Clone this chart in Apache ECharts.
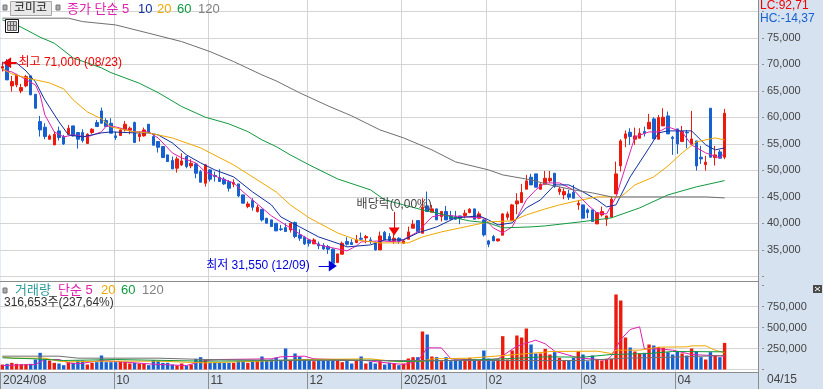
<!DOCTYPE html>
<html>
<head>
<meta charset="utf-8">
<style>
  html, body { margin: 0; padding: 0; background: #d6e2f0; }
  #main { width: 823px; height: 389px; }
</style>
</head>
<body>
<div id="main"></div>
<script src="https://cdn.jsdelivr.net/npm/echarts@6/dist/echarts.min.js"></script>
<script>
// [open, close, low, high]
const candles = [
  [69280,69590,68650,70500],[70535,67080,67080,71000],[65945,66760,64875,67830],[66130,68020,65690,68210],
  [65000,65630,64560,66320],[65945,67700,65690,68020],[67830,64250,64250,67830],[64370,61730,61730,64370],
  [59215,57640,56385,60285],[58150,56385,55880,58900],[55880,56510,55760,56825],[54810,56825,54810,57330],
  [57455,56200,55630,58270],[56385,55000,54810,56700],[56825,57960,56700,58585],[58400,56510,56385,58400],
  [57140,55880,54120,57140],[57140,55630,55250,57770],[55065,56825,55065,57015],[57140,57770,56900,57960],
  [59030,58270,58270,59530],[61225,58900,58900,61860],[59400,58270,58270,59845],[58900,57015,57015,59845],
  [56510,56200,55760,57330],[56575,57640,56575,57960],[57640,58710,57330,59340],[57640,57960,56825,58270],
  [59030,55250,55250,59215],[56385,56825,55440,57330],[56510,57640,56385,58080],[58710,57140,57140,58710],
  [56385,54750,54750,56700],[55440,54370,53365,55440],[54500,52420,52420,54500],[52925,51670,51670,52925],
  [51860,50285,50285,52610],[50410,52170,49590,52610],[51040,51790,50850,53240],[52610,50720,50410,52735],
  [50850,51350,50410,52110],[51225,49465,48520,51350],[49780,47770,47770,50095],[47580,51040,46950,51225],
  [50095,48335,47895,50220],[49025,48840,47895,49780],[48650,47895,47895,50220],[48335,47455,47265,48710],
  [47895,46635,46010,48210],[47390,47705,46825,48335],[47455,45190,44940,47455],[45380,43805,43805,45380],
  [43175,43680,42865,44120],[44310,43050,42420,44750],[42235,43050,42045,43490],[42675,40660,40350,42675],
  [40975,40030,40030,40975],[40660,39400,39400,40660],[40030,38585,38585,40030],[38965,38840,38585,39720],
  [39215,38460,38460,40030],[38775,40030,38270,40030],[40160,37520,37200,40350],[37830,37200,36700,38900],
  [37390,36135,35945,37640],[36890,36260,35630,37015],[36135,36890,36135,37200],[36135,35755,35130,36575],
  [35820,35190,35000,36260],[35630,35130,34245,35945],[35130,32485,31550,35315],[32610,34245,32610,34245],
  [34185,36260,34185,36575],[36575,36070,35820,37390],[36385,36010,36010,37015],[36385,36890,36260,37830],
  [37200,37015,36760,38270],[37265,37520,36260,37830],[36890,36760,36135,37390],[36260,35000,34875,36575],
  [35000,37640,35000,38460],[38335,36890,36890,38585],[37520,36760,36760,38145],[36760,37200,36135,38020],
  [37200,36700,36135,37390],[36260,36700,36135,37015],[37015,38400,37015,39400],[39090,39845,39090,40660],
  [40535,38460,38460,40535],[38145,43050,38145,44750],[43305,42235,42235,46010],[42110,42740,42110,43490],
  [42740,40660,40660,42740],[41290,42235,40350,42360],[42235,40660,40660,43305],[41415,40790,40790,42360],
  [41290,40790,40660,42360],[41415,40975,39845,41415],[41480,41920,40975,42550],[42045,42675,41920,42865],
  [42740,40790,40790,42740],[40975,41795,40790,42235],[40660,37830,37520,40790],[36700,36070,35505,36890],
  [37520,36700,36700,37830],[36700,37075,36575,37075],[37770,41795,37770,41920],[41165,41795,40660,42235],
  [40535,43490,40535,43680],[43680,44245,41730,45695],[43930,45820,43930,47455],[46450,48020,46450,49150],
  [48710,47265,47265,49340],[49340,46825,46825,49340],[46450,47390,46450,47580],[47390,48520,47390,49900],
  [48020,48520,47700,49900],[49470,46950,46700,49470],[45950,46510,45380,46950],[45380,46000,44560,46640],
  [45570,44940,44435,46320],[45880,44750,44750,47265],[43490,43800,42550,44435],[43490,40975,40975,43490],
  [42550,42045,40975,42860],[42550,40350,40350,42550],[39900,42045,39900,42045],[41600,42230,41290,43180],
  [40790,41415,39530,41415],[41165,44560,41165,45065],[45570,49340,45570,51670],[50850,55567,49780,55880],
  [56070,56888,54370,57517],[57200,56385,54810,57957],[55880,56510,54810,58080],[56070,57013,56070,57957],
  [57330,57013,56385,58270],[57830,59089,57830,60660],[59718,55944,55944,60032],[55880,59970,55880,60472],
  [58397,60032,58397,61730],[60284,56888,56888,61100],[56258,56007,52925,56510],[57830,55000,53115,57830],
  [55440,57330,55440,58397],[57200,57076,54183,57640],[54938,55944,54938,61227],[55567,50850,49970,55567],
  [52485,52170,51228,54624],[51100,51542,49970,52737],[61730,52485,52485,61730],[52422,52925,50913,54624],
  [53490,52297,52297,53869],[52485,60787,52108,61604]
];
const volumes = [
  59500,67500,79400,67500,63500,63500,67500,119000,198400,127000,107100,79400,71400,51600,87300,79400,
  107100,107100,59500,79400,87300,166700,87300,87300,87300,91300,91300,71400,79400,71400,67500,51600,
  111100,99200,79400,79400,59500,47600,71400,47600,59500,127000,146800,119000,79400,79400,79400,79400,
  79400,79400,99200,99200,79400,107100,99200,154800,107100,119000,142800,107100,250000,107100,190500,150800,
  119000,103200,99200,107100,107100,107100,107100,107100,87300,107100,71400,107100,154800,71400,91300,71400,
  99200,59500,79400,71400,51600,71400,130900,146800,146800,452400,416600,154800,146800,99200,146800,99200,
  119000,107100,119000,138900,119000,107100,226200,130900,99200,119000,396800,119000,226200,404700,380900,488100,
  297600,190500,190500,246000,178600,206300,138900,107100,107100,138900,218200,178600,99200,166700,119000,107100,
  127000,127000,892800,821400,380900,261900,214300,190500,198400,297600,285700,265900,257900,206300,178600,218200,
  190500,166700,250000,218200,146800,119000,206300,166700,146800,316653
];

// moving averages, [bar index, value]
const ma5 = [[0,68960],[2,68585],[4,67640],[7,66130],[8,64245],[9,60470],[11,57265],[13,56320],[15,56700],[18,56320],[21,57265],[22,58395],[24,58210],[28,57265],[31,57265],[33,56130],[36,53300],[38,52360],[41,51415],[43,49715],[46,48585],[49,47640],[51,45945],[55,42925],[57,41415],[60,39715],[64,37450],[67,35945],[70,35380],[73,34810],[75,35755],[76,36510],[80,36700],[84,36510],[86,37450],[88,38395],[91,41225],[93,41600],[98,41225],[102,41040],[104,39150],[106,38210],[108,39340],[111,44435],[113,46320],[115,47640],[118,47640],[121,46320],[124,43490],[126,41980],[128,41790],[130,45000],[132,50660],[134,56320],[137,57265],[139,57265],[141,58210],[144,57265],[146,54810],[149,53300],[152,52360],[153,53300]];
const ma10 = [[0,70285],[3,70285],[5,68775],[7,66700],[9,63300],[12,59150],[14,56700],[17,56320],[21,57075],[23,57265],[28,57075],[31,57075],[33,56700],[36,55190],[39,52925],[42,51415],[45,50095],[49,48775],[53,45945],[57,43490],[59,41225],[63,39340],[67,37450],[72,35945],[73,35565],[78,35945],[81,36890],[85,36890],[88,38210],[92,39340],[96,41040],[101,41415],[103,40660],[105,39715],[108,40095],[111,42925],[114,44435],[117,47265],[120,47265],[123,45945],[126,44435],[128,43115],[130,43490],[133,48775],[137,54245],[139,57075],[141,57455],[146,57455],[149,54810],[151,53870],[153,54245]];
const ma20 = [[0,69150],[2,68210],[6,67265],[10,66510],[13,65380],[15,63300],[18,61040],[21,59720],[23,58210],[28,57265],[31,57075],[36,56130],[42,54245],[49,51040],[55,47640],[58,45945],[61,43490],[65,41040],[71,38210],[75,36890],[80,36320],[86,36320],[89,37450],[93,38395],[98,39340],[103,40285],[108,40470],[111,41600],[115,42735],[118,43490],[122,44300],[126,45000],[131,45000],[134,47265],[138,48775],[141,50850],[144,53300],[147,55380],[151,56130],[153,55755]];
const ma60 = [[0,78400],[4,77020],[8,75130],[11,74000],[15,71225],[21,69340],[23,68450],[29,66450],[33,64680],[38,62040],[43,60040],[48,58775],[52,57320],[55,55755],[58,54490],[61,52925],[65,51040],[71,48400],[78,46320],[81,44435],[85,43490],[89,42550],[92,41980],[96,41040],[99,40470],[103,40095],[106,39150],[112,39340],[115,39530],[123,40340],[129,41040],[135,42925],[141,45375],[147,46890],[153,48075]];
const ma120 = [[0,78720],[14,78720],[17,78075],[24,77450],[31,75885],[38,74300],[44,72415],[49,70530],[55,68020],[58,66890],[63,64625],[69,62170],[74,60285],[80,57640],[85,56130],[91,53870],[96,51605],[103,50095],[106,49150],[112,48210],[116,47265],[121,46320],[125,45755],[129,45000],[137,45000],[149,45000],[153,44810]];

const volMa5 = [[0,47600],[7,59500],[9,119000],[12,119000],[14,79400],[16,67500],[21,107100],[28,79400],[33,59500],[39,47600],[43,107100],[46,119000],[57,127000],[59,150800],[64,158700],[66,127000],[77,107100],[80,87300],[85,59500],[88,99200],[90,257900],[93,257900],[95,127000],[101,111100],[105,127000],[109,277800],[113,349200],[115,305500],[117,218200],[122,138900],[128,111100],[129,158700],[131,357100],[133,476200],[135,507900],[136,246000],[139,246000],[142,230100],[146,178600],[153,158700]];
const volMa20 = [[0,150800],[2,134900],[9,134900],[12,99200],[14,91300],[21,99200],[33,99200],[43,79400],[57,103200],[64,119000],[78,127000],[80,115100],[84,91300],[89,99200],[91,127000],[99,134900],[115,206300],[116,214300],[126,218200],[129,190500],[130,230100],[135,230100],[139,265900],[145,269800],[146,281700],[149,281700],[151,230100],[153,198400]];
const volMa60 = [[0,138900],[7,127000],[13,107100],[24,119000],[43,99200],[57,107100],[64,111100],[78,111100],[85,95200],[103,119000],[115,150800],[123,146800],[129,178600],[137,190500],[142,214300],[153,210300]];
const volMa120 = [[0,158700],[12,158700],[16,134900],[33,134900],[43,119000],[57,111100],[77,107100],[123,107100],[132,134900],[142,146800],[153,166700]];

// month start bars and their axis labels
const monthStarts = [0, 24, 44, 65, 85, 103, 123, 143];
const monthLabels = ['2024/08', '10', '11', '12', '2025/01', '02', '03', '04'];
const categories = Array.from({ length: 161 }, (_, i) => {
  const m = monthStarts.indexOf(i);
  return m >= 0 ? monthLabels[m] : String(i);
});

const priceLegend = [
  { text: '종가 단순 5', x: 67, color: '#e020b0' },
  { text: '10', x: 138, color: '#1030a0' },
  { text: '20', x: 157, color: '#f0a800' },
  { text: '60', x: 177, color: '#109a40' },
  { text: '120', x: 198, color: '#808080' }
];
const volumeLegend = [
  { text: '거래량', x: 15, color: '#2a9a9a' },
  { text: '단순 5', x: 58, color: '#e020b0' },
  { text: '20', x: 101, color: '#f0a800' },
  { text: '60', x: 121, color: '#109a40' },
  { text: '120', x: 142, color: '#808080' }
];

const RED = '#ec1a0c';
const BLUE = '#1660d0';
const GRID = '#d4d4d4';
const FRAME = '#8c8c8c';
const BAND = '#d6e2f0';
const FONT = '"Liberation Sans", "Noto Sans CJK KR", sans-serif';
const isMonthStart = (i) => monthStarts.includes(i);
const comma = (v) => v.toLocaleString('en-US');

const label = (text, x, y, color, size) => ({
  type: 'text', x, y, silent: true, z: 10,
  style: { text, fill: color, font: (size || 12) + 'px ' + FONT, textVerticalAlign: 'middle' }
});
const square = (x, y) => ({
  type: 'rect', z: 10, silent: true,
  shape: { x, y, width: 4, height: 5 },
  style: { fill: '#aaa', stroke: '#777', lineWidth: 1 }
});
const vline = (x, y1, y2) => ({
  type: 'line', z: 9, silent: true,
  shape: { x1: x, y1, x2: x, y2 }, style: { stroke: FRAME, lineWidth: 1 }
});
const hline = (y, x2) => ({
  type: 'line', z: 9, silent: true,
  shape: { x1: 0, y1: y, x2, y2: y }, style: { stroke: FRAME, lineWidth: 1 }
});

const tableIcon = [
  { type: 'rect', z: 10, silent: true, shape: { x: 5.5, y: 19.5, width: 13, height: 13 }, style: { fill: '#fff', stroke: '#111', lineWidth: 1 } },
  { type: 'rect', z: 11, silent: true, shape: { x: 7.5, y: 21.5, width: 9, height: 9 }, style: { fill: '#ccc', stroke: '#666', lineWidth: 1 } },
  { type: 'line', z: 12, silent: true, shape: { x1: 10.5, y1: 21, x2: 10.5, y2: 31 }, style: { stroke: '#666' } },
  { type: 'line', z: 12, silent: true, shape: { x1: 13.5, y1: 21, x2: 13.5, y2: 31 }, style: { stroke: '#666' } },
  { type: 'line', z: 12, silent: true, shape: { x1: 7, y1: 25.5, x2: 17, y2: 25.5 }, style: { stroke: '#666' } }
];
const expandIcon = [
  { type: 'rect', z: 10, silent: true, shape: { x: 813, y: 285, width: 9, height: 8 }, style: { fill: '#4a4a4a' } },
  { type: 'line', z: 11, silent: true, shape: { x1: 815, y1: 287, x2: 820, y2: 291 }, style: { stroke: '#fff' } },
  { type: 'line', z: 11, silent: true, shape: { x1: 820, y1: 287, x2: 815, y2: 291 }, style: { stroke: '#fff' } }
];

const maLine = (name, data, color, axis) => ({
  name, type: 'line', data, xAxisIndex: axis, yAxisIndex: axis,
  showSymbol: false, symbol: 'none', silent: true, z: 3,
  lineStyle: { color, width: 1 }
});

const chart = echarts.init(document.getElementById('main'));
chart.setOption({
  animation: false,
  backgroundColor: BAND,
  textStyle: { fontFamily: FONT },
  grid: [
    { left: 0, top: 11.4, width: 760, height: 265 },
    { left: 0, top: 285.5, width: 760, height: 84 },
    { left: 0, top: 0, width: 760, height: 372, show: true, backgroundColor: '#fff', borderWidth: 0 }
  ],
  xAxis: [
    { type: 'category', gridIndex: 0, data: categories, show: false },
    { type: 'category', gridIndex: 1, data: categories, show: false },
    {
      type: 'category', gridIndex: 2, data: categories,
      axisLine: { lineStyle: { color: FRAME } },
      axisTick: { show: true, interval: (i) => isMonthStart(i), length: 17, lineStyle: { color: FRAME, width: 1 } },
      axisLabel: {
        interval: (i) => isMonthStart(i), color: '#444', fontSize: 12, align: 'left', margin: 3,
        hideOverlap: false
      },
      splitLine: { show: true, interval: (i) => isMonthStart(i) && i > 0, lineStyle: { color: GRID, width: 1 } }
    }
  ],
  yAxis: [
    {
      type: 'value', gridIndex: 0, position: 'right', offset: -2,
      min: 30000, max: 80000, interval: 5000, scale: true,
      axisLine: { show: true, lineStyle: { color: FRAME } },
      axisTick: { show: true, length: 6, lineStyle: { color: FRAME } },
      minorTick: { show: true, splitNumber: 5, length: 3, lineStyle: { color: FRAME } },
      axisLabel: { color: '#444', fontSize: 11, margin: 9, showMaxLabel: false, showMinLabel: false, formatter: comma },
      splitLine: { lineStyle: { color: GRID, width: 1 } }
    },
    {
      type: 'value', gridIndex: 1, position: 'right', offset: -2,
      min: 0, max: 1000000, interval: 250000,
      axisLine: { show: true, lineStyle: { color: FRAME } },
      axisTick: { show: true, length: 6, lineStyle: { color: FRAME } },
      minorTick: { show: true, splitNumber: 2, length: 3, lineStyle: { color: FRAME } },
      axisLabel: { color: '#444', fontSize: 11, margin: 9, showMaxLabel: false, showMinLabel: false, formatter: comma },
      splitLine: { showMaxLine: false, lineStyle: { color: GRID, width: 1 } }
    },
    { type: 'value', gridIndex: 2, min: 0, max: 1, show: false }
  ],
  series: [
    {
      name: '주가', type: 'candlestick', data: candles, xAxisIndex: 0, yAxisIndex: 0,
      barWidth: 3, silent: true, z: 2,
      itemStyle: { color: RED, color0: BLUE, borderColor: RED, borderColor0: BLUE, borderWidth: 1 },
      markPoint: {
        symbol: 'circle', symbolSize: 0, silent: true,
        data: [
          {
            coord: [3, 70400],
            label: { show: true, position: 'right', distance: 2, formatter: '최고 71,000 (08/23)', color: '#f00000', fontSize: 12, fontFamily: FONT }
          },
          {
            coord: [67, 31980],
            label: { show: true, position: 'left', distance: 9, formatter: '최저 31,550 (12/09)', color: '#0000e0', fontSize: 12, fontFamily: FONT }
          },
          {
            coord: [83, 42300],
            label: { show: true, position: 'top', distance: 1, formatter: '배당락(0,00%)', color: '#444', fontSize: 12, fontFamily: FONT }
          }
        ]
      },
      markLine: {
        silent: true, animation: false, label: { show: false },
        symbol: ['none', 'triangle'], symbolSize: [11, 8],
        data: [
          [{ coord: [3, 70300], lineStyle: { color: '#f00000', width: 2, type: 'solid' } }, { coord: [1, 70300] }],
          [{ coord: [67, 31980], lineStyle: { color: '#0000e0', width: 1, type: 'solid' } }, { coord: [70, 31980] }],
          [{ coord: [83, 42170], lineStyle: { color: '#f00000', width: 1, type: 'solid' } }, { coord: [83, 38490] }]
        ]
      }
    },
    maLine('5', ma5, '#e020b0', 0),
    maLine('10', ma10, '#1030a0', 0),
    maLine('20', ma20, '#f0a800', 0),
    maLine('60', ma60, '#109a40', 0),
    maLine('120', ma120, '#707070', 0),
    {
      name: '거래량', type: 'bar', data: volumes, xAxisIndex: 1, yAxisIndex: 1,
      barWidth: 3.4, silent: true, z: 2,
      itemStyle: { color: (p) => (candles[p.dataIndex][1] >= candles[p.dataIndex][0] ? RED : BLUE) }
    },
    maLine('v5', volMa5, '#e020b0', 1),
    maLine('v20', volMa20, '#f0a800', 1),
    maLine('v60', volMa60, '#109a40', 1),
    maLine('v120', volMa120, '#707070', 1)
  ],
  graphic: [
    { type: 'rect', z: 8, silent: true, shape: { x: 759, y: 0, width: 3, height: 389 }, style: { fill: BAND } },
    vline(758.5, 0, 389),
    hline(281.5, 758),
    square(3, 5),
    { type: 'rect', z: 10, silent: true, shape: { x: 10.5, y: 1.5, width: 41, height: 14 }, style: { fill: '#e8e8e8', stroke: '#aaa', lineWidth: 1 } },
    label('코미코', 14, 9, '#222', 12),
    square(56, 5),
    ...priceLegend.map((d) => label(d.text, d.x, 9, d.color, 13)),
    ...tableIcon,
    square(3, 288),
    ...volumeLegend.map((d) => label(d.text, d.x, 290, d.color, 13)),
    label('316,653주(237,64%)', 4, 303, '#333', 12),
    label('LC:92,71', 760, 6, '#f00000', 12),
    label('HC:-14,37', 760, 19, '#1660d0', 12),
    label('04/15', 767, 380, '#444', 12),
    ...expandIcon
  ]
});
</script>
</body>
</html>
